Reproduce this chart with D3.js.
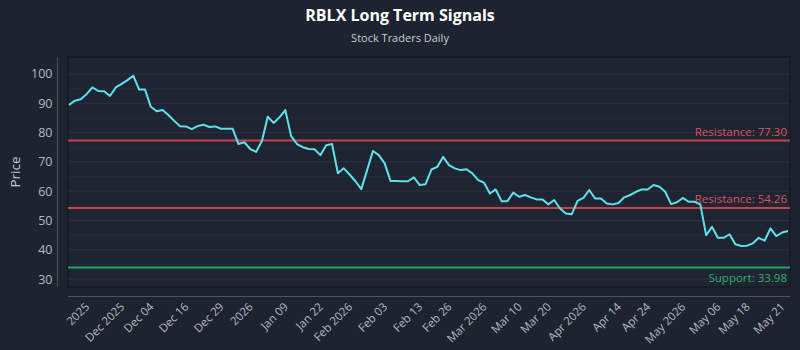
<!DOCTYPE html>
<html>
<head>
<meta charset="utf-8">
<script src="https://cdn.jsdelivr.net/npm/d3@7"></script>
<style>
  html, body { margin: 0; padding: 0; background: #1e2330; }
  svg { display: block; font-family: "Open Sans", "Noto Sans", sans-serif; }
</style>
</head>
<body>
<svg id="chart" width="800" height="350"></svg>
<script>
const prices = [
  89.4, 90.9, 91.4, 93.1, 95.4, 94.2, 94.1, 92.5, 95.4, 96.6,
  97.9, 99.4, 94.7, 94.7, 88.8, 87.3, 87.7, 86.0, 84.0, 82.2,
  82.1, 81.2, 82.2, 82.7, 81.9, 82.1, 81.3, 81.3, 81.3, 76.1,
  76.7, 74.4, 73.4, 77.1, 85.4, 83.3, 85.2, 87.7, 78.8, 76.1,
  75.0, 74.4, 74.3, 72.3, 75.7, 76.1, 66.1, 67.8, 65.7, 63.4,
  60.7, 67.2, 73.7, 72.3, 69.5, 63.5, 63.5, 63.4, 63.4, 64.7,
  62.1, 62.4, 67.4, 68.3, 71.7, 68.9, 67.8, 67.2, 67.5, 66.1,
  63.8, 62.9, 59.2, 60.6, 56.6, 56.6, 59.5, 58.1, 58.7, 57.9,
  57.2, 57.2, 55.5, 57.0, 54.1, 52.4, 52.1, 56.7, 57.7, 60.4,
  57.5, 57.5, 55.8, 55.5, 56.0, 57.9, 58.7, 59.8, 60.6, 60.6,
  62.1, 61.5, 59.8, 55.6, 56.2, 57.7, 56.4, 56.4, 55.5, 45.0,
  47.8, 44.1, 44.1, 45.3, 41.9, 41.3, 41.4, 42.2, 44.1, 43.1,
  47.3, 44.7, 45.9, 46.4
];
const tickIndex = [3, 9, 14, 20, 26, 31, 37, 43, 48, 54, 60, 65, 71, 77, 82, 88, 94, 99, 105, 111, 116, 122];
const tickLabels = ["2025", "Dec 2025", "Dec 04", "Dec 16", "Dec 29", "2026", "Jan 09", "Jan 22",
  "Feb 2026", "Feb 03", "Feb 13", "Feb 26", "Mar 2026", "Mar 10", "Mar 20", "Apr 2026",
  "Apr 14", "Apr 24", "May 2026", "May 06", "May 18", "May 21"];
const yTicks = [30, 40, 50, 60, 70, 80, 90, 100];
const levels = [
  { label: "Resistance", value: 77.30, kind: "res" },
  { label: "Resistance", value: 54.26, kind: "res" },
  { label: "Support", value: 33.98, kind: "sup" }
];

const svg = d3.select("#chart");
const L = 68, R = 790, T = 57, B = 287;
const idx = d3.range(prices.length);
const x = d3.scalePoint().domain(idx).range([69, 788]);
const y = d3.scaleLinear().domain([27.3, 105.8]).range([B, T]);

svg.append("rect").attr("width", 800).attr("height", 350).attr("fill", "#1e2330");

// title
svg.append("text").attr("x", 400).attr("y", 21).attr("text-anchor", "middle")
  .attr("fill", "#ffffff").attr("font-size", 16).attr("font-weight", "bold")
  .text("RBLX Long Term Signals");
svg.append("text").attr("x", 400).attr("y", 42).attr("text-anchor", "middle")
  .attr("fill", "#c9cdd6").attr("font-size", 11)
  .text("Stock Traders Daily");

// plot background + grid
svg.append("rect").attr("x", L).attr("y", T).attr("width", R - L).attr("height", B - T)
  .attr("fill", "#1f2433").attr("stroke", "#141824").attr("stroke-width", 1.2);

const minor = d3.range(30, 106, 5);
svg.append("g").selectAll("line").data(minor).join("line")
  .attr("x1", L).attr("x2", R)
  .attr("y1", d => y(d)).attr("y2", d => y(d))
  .attr("stroke", "#ffffff").attr("stroke-opacity", d => d % 10 === 0 ? 0.06 : 0.03)
  .attr("stroke-width", 1);

// y axis
const yAxis = svg.append("g").attr("transform", `translate(${57.5},0)`)
  .call(d3.axisLeft(y).tickValues(yTicks).tickSize(0).tickPadding(5));
yAxis.select(".domain").attr("stroke", "#4b5263").attr("d", `M0,${T}V${B}`);
yAxis.selectAll("text").attr("fill", "#b3b9c5").attr("font-size", 12.5)
  .attr("font-family", "'Open Sans', 'Noto Sans', sans-serif");

svg.append("text").attr("transform", `translate(20,${172}) rotate(-90)`)
  .attr("text-anchor", "middle").attr("fill", "#c9cdd6").attr("font-size", 13.5)
  .text("Price");

// x axis
const xAxis = svg.append("g").attr("transform", `translate(0,296.5)`)
  .call(d3.axisBottom(x).tickValues(tickIndex).tickFormat((d, i) => tickLabels[i]).tickSize(0).tickPadding(0));
xAxis.select(".domain").attr("stroke", "#4b5263").attr("d", `M${L},0H${R}`);
xAxis.selectAll("text")
  .attr("fill", "#b3b9c5").attr("font-size", 11.5)
  .attr("font-family", "'Open Sans', 'Noto Sans', sans-serif")
  .attr("text-anchor", "end")
  .attr("dy", null).attr("y", 0)
  .attr("transform", "translate(3,11) rotate(-45)");

// levels
const lv = svg.append("g");
levels.forEach(l => {
  const col = l.kind === "res" ? "#c7434c" : "#23a562";
  const tcol = l.kind === "res" ? "#d4565f" : "#2fae6b";
  lv.append("line").attr("x1", L).attr("x2", R)
    .attr("y1", y(l.value)).attr("y2", y(l.value))
    .attr("stroke", col).attr("stroke-width", 2);
  lv.append("text").attr("x", 787)
    .attr("y", l.kind === "res" ? y(l.value) - 5 : y(l.value) + 15)
    .attr("text-anchor", "end").attr("fill", tcol).attr("font-size", 11.5)
    .text(`${l.label}: ${l.value.toFixed(2)}`);
});

// price line
svg.append("path").datum(prices)
  .attr("fill", "none").attr("stroke", "#5fe1ea").attr("stroke-width", 2)
  .attr("stroke-linejoin", "round")
  .attr("d", d3.line().x((d, i) => x(i)).y(d => y(d)));
</script>
</body>
</html>
